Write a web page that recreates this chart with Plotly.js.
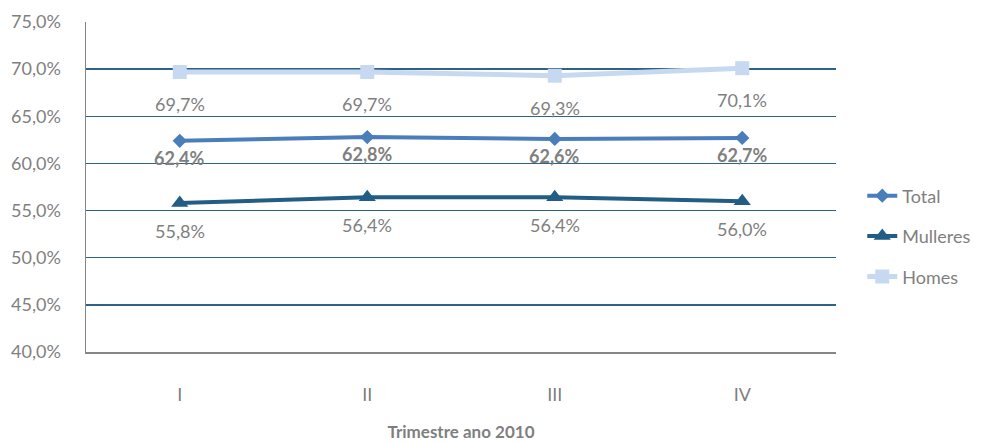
<!DOCTYPE html>
<html><head><meta charset="utf-8">
<script src="https://cdn.plot.ly/plotly-3.0.1.min.js"></script>
<style>html,body{margin:0;padding:0;background:#fff}#chart{width:1001px;height:442px}</style>
</head><body><div id="chart"></div>
<script>
const categories = ['I', 'II', 'III', 'IV'];
const total = [62.4, 62.8, 62.6, 62.7];
const mulleres = [55.8, 56.4, 56.4, 56.0];
const homes = [69.7, 69.7, 69.3, 70.1];
const yTicks = [40, 45, 50, 55, 60, 65, 70, 75];

const FONT = 'Lato, "Open Sans", sans-serif';
const GRAY = '#7f7f7f';
const C_TOTAL = '#4a7ebb', C_MUL = '#215d85', C_HOM = '#c6d9f1';
const FS = 18;

function fmt(v){ return v.toFixed(1).replace('.', ',') + '%'; }

const traces = [
  {name:'Total', legendgroup:'a', x:categories, y:total, type:'scatter', mode:'lines+markers',
   line:{color:C_TOTAL, width:4}, marker:{symbol:'diamond', size:11, color:C_TOTAL}},
  {name:'Mulleres', legendgroup:'b', x:categories, y:mulleres, type:'scatter', mode:'lines+markers',
   line:{color:C_MUL, width:4}, marker:{symbol:'triangle-up', size:15, color:C_MUL}},
  {name:'Homes', legendgroup:'c', x:categories, y:homes, type:'scatter', mode:'lines+markers',
   line:{color:C_HOM, width:5}, marker:{symbol:'square', size:14, color:C_HOM}}
];

const annotations = [];
function addLabels(vals, shift, bold){
  vals.forEach((v,i)=>annotations.push({x:categories[i], y:v, xref:'x', yref:'y',
    text: bold ? '<b>'+fmt(v)+'</b>' : fmt(v), showarrow:false, yshift:shift,
    font:{family:FONT, size:FS, color:GRAY}}));
}
addLabels(homes, -32, false);
addLabels(total, -17, true);
addLabels(mulleres, -28, false);

const layout = {
  width:1001, height:442,
  margin:{l:86, r:165, t:22, b:90},
  paper_bgcolor:'#fff', plot_bgcolor:'#fff',
  font:{family:FONT, size:FS, color:GRAY},
  showlegend:true,
  legend:{x:1.035, y:0.35, xanchor:'left', yanchor:'middle', font:{family:FONT, size:FS, color:GRAY},
    traceorder:'grouped', tracegroupgap:14, itemwidth:30, bgcolor:'rgba(0,0,0,0)'},
  xaxis:{type:'category', range:[-0.5, 3.5], showgrid:false, zeroline:false,
    showline:true, linecolor:'#868686', linewidth:1.5, ticks:'', ticklabelstandoff:26,
    tickfont:{family:FONT, size:FS, color:GRAY},
    title:{text:'<b>Trimestre ano 2010</b>', standoff:23, font:{family:FONT, size:FS-1, color:GRAY}}},
  yaxis:{range:[40, 75], tickvals:yTicks, ticktext:yTicks.map(v=>v.toFixed(1).replace('.', ',')+'%'),
    showgrid:true, gridcolor:'#2f6286', gridwidth:1.5, zeroline:false,
    showline:true, linecolor:'#868686', linewidth:1.5, ticks:'', ticklabelstandoff:20,
    tickfont:{family:FONT, size:FS, color:GRAY}},
  annotations: annotations
};

Plotly.newPlot('chart', traces, layout, {displayModeBar:false, staticPlot:true});
</script></body></html>
